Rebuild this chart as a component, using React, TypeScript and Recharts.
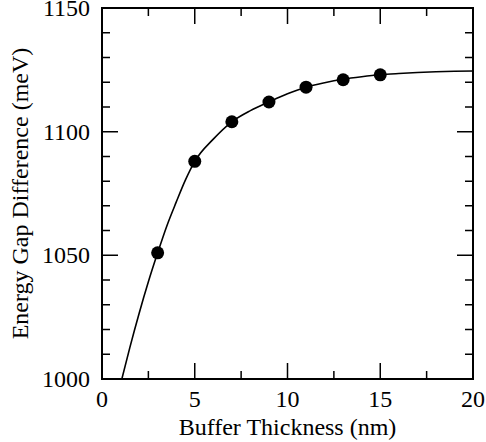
import { ComposedChart, Line, Scatter, XAxis, YAxis, ReferenceArea } from 'recharts'

// measured points
const thickness = [3, 5, 7, 9, 11, 13, 15]
const gapDiff = [1051, 1088, 1104, 1112, 1118, 1121, 1123]

// fitted curve
const fitX = [1.07, 1.5, 2, 2.5, 3, 3.5, 4, 4.5, 5, 6, 7, 8, 9, 10, 11, 12, 13, 14, 15, 16, 17, 18, 19, 20]
const fitY = [1000, 1012.7, 1026.5, 1039.3, 1051, 1062, 1071.5, 1080.5, 1088, 1097, 1104, 1108.5, 1112, 1115.3, 1118, 1119.8, 1121.2, 1122.2, 1123, 1123.5, 1123.9, 1124.2, 1124.4, 1124.5]

const xTicks = [0, 2.5, 5, 7.5, 10, 12.5, 15, 17.5, 20]
const yTicks = [1000, 1010, 1020, 1030, 1040, 1050, 1060, 1070, 1080, 1090, 1100, 1110, 1120, 1130, 1140, 1150]

const measured = thickness.map((x, i) => ({ x, y: gapDiff[i] }))
const fit = fitX.map((x, i) => ({ x, y: fitY[i] }))

const FONT = 'Liberation Serif'
const W = 486
const H = 442
const M = { top: 8, right: 13, bottom: 0, left: 0 }
const Y_AXIS_W = 102
const X_AXIS_H = 63
const PLOT_W = W - M.left - M.right - Y_AXIS_W
const PLOT_H = H - M.top - M.bottom - X_AXIS_H
const MAJOR = 16
const MINOR = 8

const isMajorX = (v: number) => v % 5 === 0
const isMajorY = (v: number) => v % 50 === 0

// inward ticks on bottom + mirrored on top
const renderBottomTick = (p: any) => {
  const x = Number(p.x)
  const y = Number(p.y)
  const v = p.payload.value
  const len = isMajorX(v) ? MAJOR : MINOR
  const top = y - PLOT_H
  return (
    <g key={`bt-${v}`}>
      <path d={`M${x},${y}V${y - len}M${x},${top}V${top + len}`} stroke="#000" strokeWidth={1.5} fill="none" />
      {isMajorX(v) && (
        <text x={x} y={y + 28} textAnchor="middle" fontSize={24} fontFamily={FONT} fill="#000">
          {v}
        </text>
      )}
    </g>
  )
}

// inward ticks on left + mirrored on right
const renderLeftTick = (p: any) => {
  const x = Number(p.x)
  const y = Number(p.y)
  const v = p.payload.value
  const len = isMajorY(v) ? MAJOR : MINOR
  const right = x + PLOT_W
  return (
    <g key={`lt-${v}`}>
      <path d={`M${x},${y}H${x + len}M${right},${y}H${right - len}`} stroke="#000" strokeWidth={1.5} fill="none" />
      {isMajorY(v) && (
        <text x={x - 12} y={y + 8} textAnchor="end" fontSize={24} fontFamily={FONT} fill="#000">
          {v}
        </text>
      )}
    </g>
  )
}

const Dot = (p: any) => <circle cx={p.cx} cy={p.cy} r={6.5} fill="#000" />

export default function App() {
  const axisLine = { stroke: '#000', strokeWidth: 2 }
  return (
    <div style={{ position: 'absolute', left: 0, top: 0, background: '#fff' }}>
      <ComposedChart width={W} height={H} margin={M}>
        <ReferenceArea
          x1={0}
          x2={20}
          y1={1000}
          y2={1150}
          fill="#fff"
          stroke="#000"
          strokeWidth={2}
          ifOverflow="visible"
        />
        <XAxis
          dataKey="x"
          type="number"
          domain={[0, 20]}
          ticks={xTicks}
          interval={0}
          allowDataOverflow
          height={X_AXIS_H}
          tickSize={0}
          tickMargin={0}
          tickLine={false}
          axisLine={axisLine}
          tick={renderBottomTick}
          label={{
            content: ({ viewBox }: any) => {
              const cx = viewBox.x + viewBox.width / 2
              return (
                <text x={cx} y={435} textAnchor="middle" fontSize={24} fontFamily={FONT} fill="#000">
                  Buffer Thickness (nm)
                </text>
              )
            },
          }}
        />
        <YAxis
          dataKey="y"
          type="number"
          domain={[1000, 1150]}
          ticks={yTicks}
          interval={0}
          allowDataOverflow
          width={Y_AXIS_W}
          tickSize={0}
          tickMargin={0}
          tickLine={false}
          axisLine={axisLine}
          tick={renderLeftTick}
          label={{
            content: ({ viewBox }: any) => {
              const cy = viewBox.y + viewBox.height / 2
              return (
                <text
                  x={28}
                  y={cy}
                  transform={`rotate(-90 28 ${cy})`}
                  textAnchor="middle"
                  fontSize={24}
                  fontFamily={FONT}
                  fill="#000"
                >
                  Energy Gap Difference (meV)
                </text>
              )
            },
          }}
        />
        <Line
          data={fit}
          dataKey="y"
          type="monotone"
          stroke="#000"
          strokeWidth={1.6}
          dot={false}
          activeDot={false}
          isAnimationActive={false}
        />
        <Scatter data={measured} dataKey="y" shape={Dot} isAnimationActive={false} />
      </ComposedChart>
    </div>
  )
}
